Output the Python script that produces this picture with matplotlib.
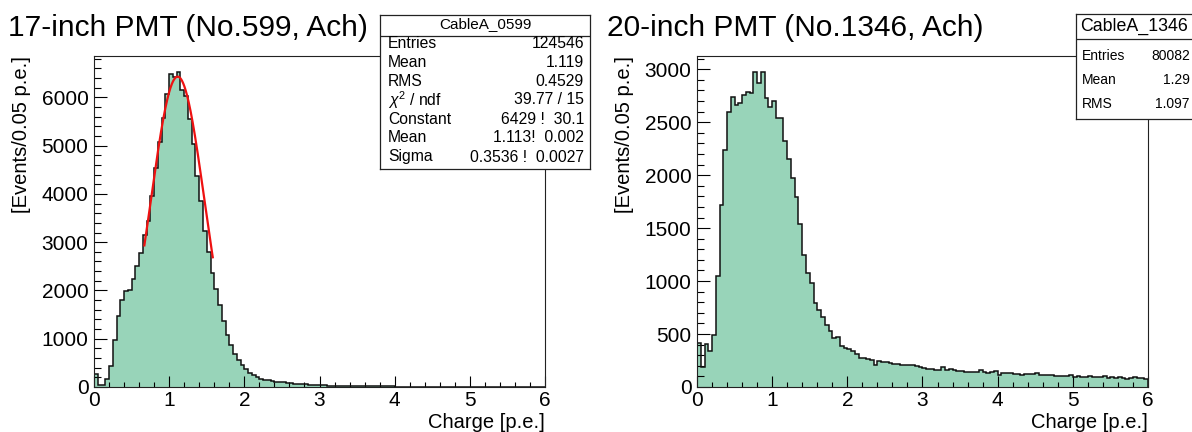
import numpy as np
import matplotlib
matplotlib.use("Agg")
import matplotlib.pyplot as plt
from matplotlib.ticker import MultipleLocator

plt.rcParams['font.family'] = ['Liberation Sans', 'DejaVu Sans']
plt.rcParams['mathtext.fontset'] = 'custom'
plt.rcParams['mathtext.rm'] = 'Liberation Sans'
plt.rcParams['mathtext.it'] = 'Liberation Sans:italic'

# charge spectra, 120 bins of 0.05 p.e. from 0 to 6
bin_width = 0.05
q_min, q_max = 0.0, 6.0

counts_17 = [
    275, 50, 50, 158, 434, 977, 1466, 1803, 1989, 2003,
    2237, 2498, 2767, 3145, 3434, 3950, 4542, 5072, 5575, 6070,
    6476, 6420, 6530, 6160, 6020, 5560, 5030, 4370, 3850, 3240,
    2790, 2370, 2025, 1705, 1375, 1070, 870, 690, 560, 450,
    370, 300, 250, 205, 170, 150, 135, 120, 110, 100,
    95, 88, 80, 72, 66, 60, 55, 50, 45, 42,
    38, 34, 30, 28, 25, 22, 20, 19, 18, 17,
    16, 15, 15, 14, 13, 13, 12, 12, 11, 11,
    10, 10, 10, 9, 9, 9, 8, 8, 8, 8,
    7, 7, 7, 7, 7, 6, 6, 6, 6, 6,
    6, 5, 5, 5, 5, 5, 5, 4, 4, 4,
    4, 4, 4, 4, 4, 3, 3, 3, 3, 3,
]

counts_20 = [
    413, 188, 404, 341, 491, 1048, 1721, 2234, 2597, 2735,
    2663, 2682, 2760, 2785, 2775, 2970, 2870, 2976, 2730, 2640,
    2700, 2540, 2537, 2320, 2150, 1977, 1790, 1539, 1245, 1075,
    982, 790, 726, 665, 588, 533, 460, 476, 388, 372,
    362, 340, 310, 275, 270, 262, 255, 205, 248, 238,
    232, 226, 220, 214, 210, 206, 209, 204, 198, 192,
    178, 170, 172, 165, 160, 185, 158, 166, 160, 155,
    150, 146, 140, 138, 142, 160, 145, 128, 140, 152,
    118, 135, 132, 128, 125, 120, 118, 122, 120, 125,
    128, 115, 110, 112, 118, 105, 108, 102, 100, 112,
    96, 100, 98, 95, 104, 92, 96, 90, 100, 88,
    90, 85, 92, 86, 80, 88, 90, 86, 84, 80,
]

# gaussian fit on the 17-inch spectrum
fit_const, fit_const_err = 6429, 30.1
fit_mean, fit_mean_err = 1.113, 0.002
fit_sigma, fit_sigma_err = 0.3536, 0.0027
fit_lo, fit_hi = 0.67, 1.58
fit_chi2, fit_ndf = 39.77, 15

titles = ["17-inch PMT (No.599, Ach)", "20-inch PMT (No.1346, Ach)"]
hist_names = ["CableA_0599", "CableA_1346"]
entries = [124546, 80082]
means = ["1.119", "1.29"]
rms = ["0.4529", "1.097"]
y_major = [1000, 500]
y_minor = [200, 100]

FILL = "#98d4b9"
W, H = 1192, 432


def px_rect(x0, y0, x1, y1):
    # pixel box (top-left origin) -> figure fraction rect
    return [x0 / W, (H - y1) / H, (x1 - x0) / W, (y1 - y0) / H]


def draw_hist(ax, counts, major, minor):
    edges = np.linspace(q_min, q_max, len(counts) + 1)
    ax.stairs(counts, edges, fill=True, color=FILL, zorder=1)
    ax.stairs(counts, edges, color="#111111", lw=1.1, zorder=2)
    ax.set_xlim(q_min, q_max)
    ax.set_ylim(0, max(counts) * 1.05)
    ax.xaxis.set_major_locator(MultipleLocator(1))
    ax.xaxis.set_minor_locator(MultipleLocator(0.2))
    ax.yaxis.set_major_locator(MultipleLocator(major))
    ax.yaxis.set_minor_locator(MultipleLocator(minor))
    ax.tick_params(axis='x', which='major', direction='in', length=7.6, width=0.8, labelsize=15, pad=3)
    ax.tick_params(axis='x', which='minor', direction='in', length=3.6, width=0.8)
    ax.tick_params(axis='y', which='major', direction='in', length=9.7, width=0.8, labelsize=15, pad=4)
    ax.tick_params(axis='y', which='minor', direction='in', length=5.0, width=0.8)
    for s in ax.spines.values():
        s.set_linewidth(0.8)
        s.set_color("#222222")
    ax.text(-0.16, 1.0, "[Events/0.05 p.e.]", transform=ax.transAxes, rotation=90,
            ha='center', va='top', fontsize=14.5)
    ax.text(1.0, -0.106, "Charge [p.e.]", transform=ax.transAxes,
            ha='right', va='center', fontsize=14.5)


def draw_stats(fig, box, title, rows, head_size, row_size, head_y, line_y, row_y, pad_l, pad_r):
    x0, y0, x1, y1 = box
    sax = fig.add_axes(px_rect(x0, y0, x1, y1), zorder=5)
    sax.set_xlim(x0, x1)
    sax.set_ylim(y1, y0)
    sax.set_xticks([])
    sax.set_yticks([])
    sax.set_facecolor("white")
    for s in sax.spines.values():
        s.set_linewidth(0.9)
        s.set_color("#222222")
    sax.text((x0 + min(x1, W)) / 2, head_y, title, ha='center', va='center', fontsize=head_size)
    sax.axhline(line_y, color="#222222", lw=0.9)
    for (name, val), y in zip(rows, row_y):
        sax.text(x0 + pad_l, y, name, ha='left', va='center', fontsize=row_size)
        sax.text(min(x1, W) - pad_r, y, val, ha='right', va='center', fontsize=row_size)


fig = plt.figure(figsize=(W / 100, H / 100), dpi=100)
ax1 = fig.add_axes(px_rect(94, 56, 545, 387))
ax2 = fig.add_axes(px_rect(697, 56, 1148, 387))

draw_hist(ax1, counts_17, y_major[0], y_minor[0])
draw_hist(ax2, counts_20, y_major[1], y_minor[1])

xf = np.linspace(fit_lo, fit_hi, 300)
ax1.plot(xf, fit_const * np.exp(-0.5 * ((xf - fit_mean) / fit_sigma) ** 2),
         color="#ee1111", lw=1.6, zorder=3)

fig.text(8 / W, (H - 36) / H, titles[0], fontsize=21.5, ha='left', va='baseline')
fig.text(607 / W, (H - 36) / H, titles[1], fontsize=21.5, ha='left', va='baseline')

rows_17 = [
    ("Entries", f"{entries[0]}"),
    ("Mean", means[0]),
    ("RMS", rms[0]),
    (r"$\chi^{2}$ / ndf", f"{fit_chi2} / {fit_ndf}"),
    ("Constant", f"{fit_const} !  {fit_const_err}"),
    ("Mean", f"{fit_mean}!  {fit_mean_err}"),
    ("Sigma", f"{fit_sigma} !  {fit_sigma_err}"),
]
draw_stats(fig, (380, 15, 590, 169), hist_names[0], rows_17, 11, 11.3,
           24, 36, [43 + 19 * i for i in range(7)], 8, 6)

rows_20 = [
    ("Entries", f"{entries[1]}"),
    ("Mean", means[1]),
    ("RMS", rms[1]),
]
draw_stats(fig, (1076, 14, 1200, 119), hist_names[1], rows_20, 12.8, 10,
           26, 39, [56, 80, 104], 6, 2)

fig.savefig("out.png", dpi=100)
